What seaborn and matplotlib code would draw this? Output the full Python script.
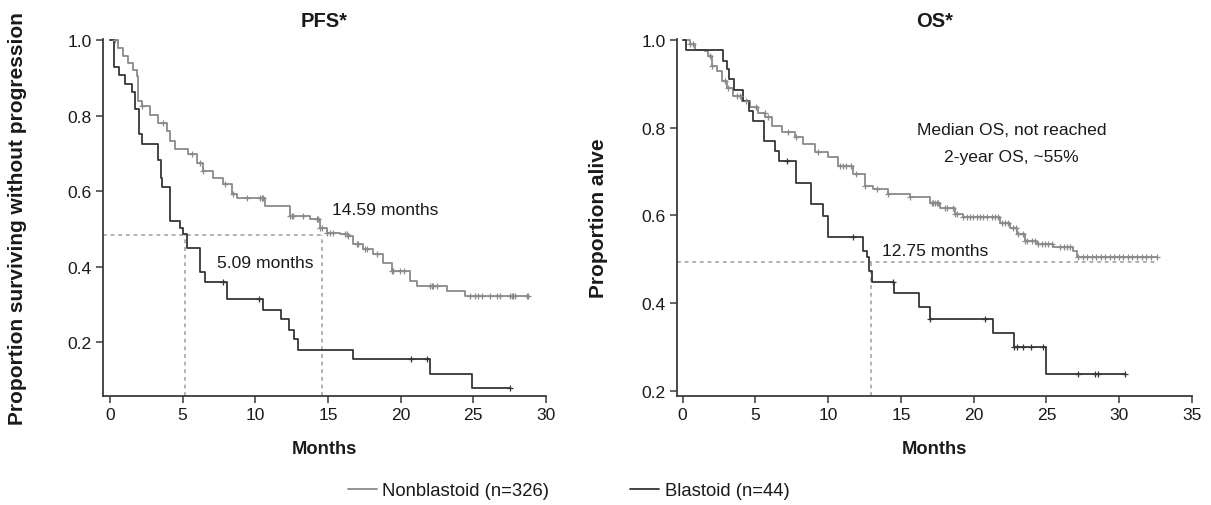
import numpy as np
import pandas as pd
import matplotlib
matplotlib.use("Agg")
import matplotlib.pyplot as plt
from matplotlib.lines import Line2D
import seaborn as sns

# ---------------- data ----------------
# PFS, Nonblastoid
pfs_non_t = [0, 0.57, 0.91, 1.26, 1.61, 1.84, 1.95, 2.18, 2.76, 3.32, 3.9, 4.13, 4.47,
             5.39, 5.97, 6.42, 7.12, 7.8, 8.38, 8.72, 10.66, 12.39, 13.76, 14.45, 14.91,
             15.83, 16.4, 16.74, 17.43, 18.12, 18.8, 19.38, 20.65, 21.1, 23.17, 24.43]
pfs_non_s = [1.0, 0.98, 0.958, 0.94, 0.922, 0.905, 0.839, 0.825, 0.803, 0.781, 0.759, 0.733, 0.711,
             0.698, 0.676, 0.653, 0.636, 0.618, 0.592, 0.581, 0.561, 0.534, 0.526, 0.504, 0.490,
             0.486, 0.481, 0.460, 0.446, 0.433, 0.411, 0.389, 0.362, 0.349, 0.336, 0.323]
pfs_non_end = 28.79
pfs_non_cens = [0.34, 2.18, 3.67, 5.62, 6.19, 6.42, 7.91, 8.49, 9.41, 10.32, 10.44, 10.55,
                12.39, 12.5, 12.62, 13.3, 14.22, 14.34, 14.45, 14.57, 14.91, 15.14, 15.37,
                16.17, 16.28, 16.4, 16.98, 17.09, 17.55, 17.67, 18.35, 19.39, 19.5, 19.96,
                20.2, 22.02, 22.14, 22.25, 22.48, 24.78, 25.12, 25.35, 25.58, 26.15, 26.61,
                26.84, 27.53, 27.64, 27.76, 27.87, 28.68, 28.79]

# PFS, Blastoid
pfs_bla_t = [0, 0.25, 0.65, 1.0, 1.5, 1.75, 2.02, 2.2, 3.33, 3.5, 3.6, 4.1, 4.15, 4.82, 5.04,
             5.3, 6.19, 6.54, 8.03, 10.5, 11.75, 12.3, 12.65, 12.95, 16.74, 22.05, 24.93]
pfs_bla_s = [1.0, 0.93, 0.907, 0.885, 0.862, 0.817, 0.751, 0.724, 0.682, 0.636, 0.612, 0.565,
             0.521, 0.504, 0.486, 0.451, 0.385, 0.360, 0.314, 0.286, 0.261, 0.233, 0.208,
             0.180, 0.156, 0.117, 0.079]
pfs_bla_end = 27.49
pfs_bla_cens = [7.8, 10.27, 20.7, 21.83, 27.49]

# OS, Nonblastoid
os_non_t = [0, 0.5, 0.85, 1.53, 1.76, 1.99, 2.34, 2.68, 3.02, 3.48, 4.05, 4.63, 5.2, 5.66,
            6.12, 6.8, 7.72, 8.29, 9.09, 10.0, 10.69, 11.73, 12.53, 13.1, 14.13, 15.62, 17.0,
            17.69, 18.72, 19.29, 21.81, 22.5, 22.95, 23.53, 24.33, 25.47, 26.85, 27.08]
os_non_s = [1.0, 0.991, 0.979, 0.976, 0.964, 0.941, 0.930, 0.907, 0.892, 0.873, 0.862, 0.847,
            0.835, 0.824, 0.805, 0.790, 0.779, 0.763, 0.744, 0.733, 0.713, 0.694, 0.667, 0.660,
            0.650, 0.641, 0.629, 0.618, 0.604, 0.596, 0.583, 0.572, 0.557, 0.542, 0.535, 0.527,
            0.519, 0.506]
os_non_end = 32.58
os_non_cens = [0.5, 0.7, 1.88, 1.99, 2.91, 3.13, 3.7, 3.93, 4.38, 5.06, 5.63, 5.86, 7.24, 7.82,
               9.3, 10.8, 11.0, 11.25, 11.6, 11.94, 12.53, 13.33, 14.13, 15.62, 17.1, 17.22,
               17.33, 17.45, 17.56, 18.05, 18.16, 18.6, 18.72, 18.84, 19.29, 19.52, 19.75,
               19.98, 20.21, 20.44, 20.67, 20.89, 21.24, 21.47, 21.7, 21.93, 22.15, 22.38,
               22.73, 22.9, 23.07, 23.42, 23.53, 23.64, 23.99, 24.22, 24.45, 24.67, 24.9,
               25.13, 25.36, 25.96, 26.18, 26.4, 26.62, 27.19, 27.5, 27.81, 28.12, 28.43,
               28.74, 29.05, 29.36, 29.67, 29.98, 30.29, 30.6, 30.91, 31.22, 31.53, 31.84,
               32.15, 32.58]

# OS, Blastoid
os_bla_t = [0, 0.25, 2.79, 3.02, 3.2, 3.55, 4.17, 4.56, 4.85, 5.61, 6.34, 6.62, 7.77, 8.82,
            9.66, 9.97, 12.37, 12.65, 12.83, 13.03, 14.52, 16.26, 17.0, 21.3, 22.77, 24.97]
os_bla_s = [1.0, 0.977, 0.953, 0.934, 0.911, 0.886, 0.862, 0.839, 0.816, 0.770, 0.748, 0.725,
            0.673, 0.626, 0.599, 0.551, 0.519, 0.506, 0.472, 0.447, 0.422, 0.390, 0.364,
            0.331, 0.299, 0.238]
os_bla_end = 30.4
os_bla_cens = [7.15, 11.73, 14.48, 17.0, 20.78, 22.77, 22.95, 23.41, 23.92, 24.78, 27.19,
               28.34, 28.57, 30.4]

# medians
pfs_med_level = 0.483
pfs_med_times = [5.13, 14.6]
os_med_level = 0.493
os_med_time = 12.95

legend_labels = ["Nonblastoid (n=326)", "Blastoid (n=44)"]

# ---------------- style ----------------
sns.set_theme(style="ticks")
plt.rcParams["font.family"] = ["Liberation Sans", "DejaVu Sans"]
FS = 12.6
FS_LAB = 13.2
FS_YLAB = 15.0
FS_TITLE = 14.5
FS_LEG = 13.3
TXT = "#1a1a1a"
GREY = "#8a8a8a"
DARK = "#363636"
DASH = "#9c9c9c"
SPINE = "#3a3a3a"

fig = plt.figure(figsize=(12.11, 5.06), dpi=100)
ax1 = fig.add_axes([103 / 1211, 1 - 397 / 506, 443 / 1211, 357 / 506])
ax2 = fig.add_axes([677 / 1211, 1 - 397 / 506, 515 / 1211, 357 / 506])


def lookup(t, s, c):
    idx = np.searchsorted(np.asarray(t), np.asarray(c), side="right") - 1
    return np.asarray(s)[idx]


def draw_curve(ax, t, s, end, cens, color, lw=1.3):
    df = pd.DataFrame({"t": list(t) + [end], "s": list(s) + [s[-1]]})
    sns.lineplot(data=df, x="t", y="s", ax=ax, color=color, lw=lw,
                 drawstyle="steps-post", estimator=None, sort=False)
    cy = lookup(t, s, cens)
    sns.scatterplot(x=cens, y=cy, ax=ax, marker="+", s=20, color=color,
                    linewidth=0.9, zorder=3)


def style_axes(ax, xlim, ylim, xticks, yticks):
    ax.set_xlim(*xlim)
    ax.set_ylim(*ylim)
    ax.set_xticks(xticks)
    ax.set_yticks(yticks)
    ax.set_yticklabels([f"{v:.1f}" for v in yticks])
    sns.despine(ax=ax)
    for sp in ["left", "bottom"]:
        ax.spines[sp].set_color(SPINE)
        ax.spines[sp].set_linewidth(1.3)
    ax.tick_params(axis="both", direction="out", length=5, width=1.1, color=SPINE,
                   labelsize=FS, labelcolor=TXT, pad=3)


# ---- PFS ----
ax1.plot([-0.48, pfs_med_times[1]], [pfs_med_level, pfs_med_level], ls=(0, (2.5, 2.5)),
         color=DASH, lw=1.1, zorder=1)
for mt in pfs_med_times:
    ax1.plot([mt, mt], [0.058, pfs_med_level], ls=(0, (2.5, 2.5)), color=DASH, lw=1.1, zorder=1)
draw_curve(ax1, pfs_non_t, pfs_non_s, pfs_non_end, pfs_non_cens, GREY)
draw_curve(ax1, pfs_bla_t, pfs_bla_s, pfs_bla_end, pfs_bla_cens, DARK)
style_axes(ax1, (-0.48, 30.0), (0.058, 1.003), [0, 5, 10, 15, 20, 25, 30],
           [0.2, 0.4, 0.6, 0.8, 1.0])
ax1.set_title("PFS*", fontsize=FS_TITLE, fontweight="bold", color=TXT, pad=9)
ax1.set_xlabel("Months", fontsize=FS_LAB, fontweight="bold", color=TXT)
ax1.set_ylabel("Proportion surviving without progression", fontsize=FS_YLAB,
               fontweight="bold", color=TXT)
ax1.xaxis.set_label_coords(0.5, -0.122)
ax1.yaxis.set_label_coords(-0.171, 0.5)
ax1.text(15.3, 0.552, "14.59 months", fontsize=FS, color=TXT, va="center", ha="left")
ax1.text(7.33, 0.411, "5.09 months", fontsize=FS, color=TXT, va="center", ha="left")

# ---- OS ----
ax2.plot([-0.39, os_non_end], [os_med_level, os_med_level], ls=(0, (2.5, 2.5)),
         color=DASH, lw=1.1, zorder=1)
ax2.plot([os_med_time, os_med_time], [0.1875, os_med_level], ls=(0, (2.5, 2.5)),
         color=DASH, lw=1.1, zorder=1)
draw_curve(ax2, os_non_t, os_non_s, os_non_end, os_non_cens, GREY)
draw_curve(ax2, os_bla_t, os_bla_s, os_bla_end, os_bla_cens, DARK)
style_axes(ax2, (-0.39, 35.0), (0.1875, 1.003), [0, 5, 10, 15, 20, 25, 30, 35],
           [0.2, 0.4, 0.6, 0.8, 1.0])
ax2.set_title("OS*", fontsize=FS_TITLE, fontweight="bold", color=TXT, pad=9)
ax2.set_xlabel("Months", fontsize=FS_LAB, fontweight="bold", color=TXT)
ax2.set_ylabel("Proportion alive", fontsize=FS_YLAB, fontweight="bold", color=TXT)
ax2.xaxis.set_label_coords(0.5, -0.122)
ax2.yaxis.set_label_coords(-0.134, 0.5)
ax2.text(13.68, 0.519, "12.75 months", fontsize=FS, color=TXT, va="center", ha="left")
ax2.text(22.6, 0.797, "Median OS, not reached", fontsize=FS, color=TXT, va="center", ha="center")
ax2.text(22.6, 0.735, "2-year OS, ~55%", fontsize=FS, color=TXT, va="center", ha="center")

# ---- legend ----
handles = [Line2D([], [], color=GREY, lw=1.3), Line2D([], [], color=DARK, lw=1.3)]
fig.legend(handles, legend_labels, loc="center left", bbox_to_anchor=(348 / 1211, 1 - 492 / 506),
           ncol=2, frameon=False, fontsize=FS_LEG, handlelength=1.55, handletextpad=0.3,
           columnspacing=4.4, borderpad=0, borderaxespad=0, labelcolor=TXT)

fig.savefig("out.png", dpi=100, facecolor="white")
